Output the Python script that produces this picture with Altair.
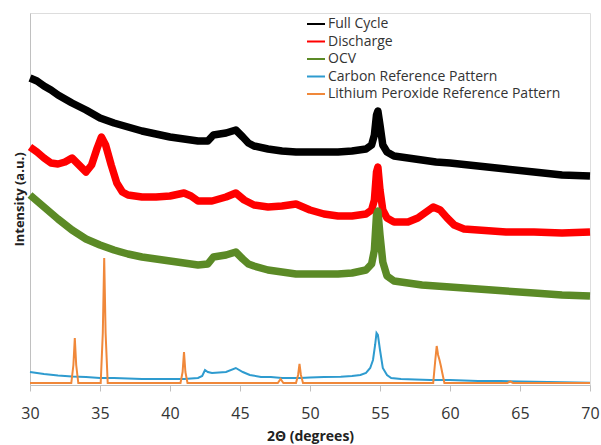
import altair as alt
import pandas as pd

# 2-theta positions (degrees) and intensities (a.u.)
two_theta_scan = [30, 30.5, 31, 31.5, 32, 33, 34, 35, 36, 37, 38, 39, 40, 41, 42, 42.7, 43.1, 44, 44.7, 45.2,
                  45.6, 46, 47, 48, 49, 50, 51, 52, 53, 54, 54.4, 54.6, 54.75, 54.85, 55.0, 55.2, 55.5, 56,
                  57, 58, 59, 60, 62, 64, 66, 68, 70]
full_cycle = [307, 304, 299, 295, 290, 282, 275, 267, 262, 258, 254, 251, 248, 246, 244, 244, 250, 252, 255, 248,
              242, 239, 236, 234, 233, 233, 233, 233, 234, 236, 240, 250, 270, 274, 260, 240, 233, 229,
              227, 225, 223, 222, 219, 216, 213, 210, 209]
ocv = [190, 184, 178, 172, 166, 155, 146, 140, 135, 131, 128, 126, 124, 122, 120, 121, 128, 130, 133, 126,
       121, 119, 115, 113, 111, 111, 111, 111, 112, 115, 121, 135, 170, 174, 150, 123, 109, 104,
       102, 100, 99, 98, 96, 94, 92, 90, 89]

two_theta_discharge = [30, 30.5, 31, 31.5, 32, 32.5, 33, 33.5, 34, 34.4, 34.8, 35.1, 35.4, 35.8, 36.2, 36.6, 37,
                       38, 39, 40, 41, 41.5, 42, 43, 44, 44.7, 45.3, 46, 47, 48, 49, 50, 51, 52, 53, 54, 54.4,
                       54.6, 54.75, 54.85, 55.0, 55.2, 55.5, 56, 57, 57.7, 58.3, 58.8, 59.3, 59.8, 60.3, 61, 62,
                       64, 66, 68, 70]
discharge = [238, 233, 227, 222, 221, 223, 227, 220, 213, 220, 237, 248, 240, 220, 202, 193, 190,
             188, 188, 189, 192, 189, 184, 184, 188, 192, 185, 180, 178, 179, 181, 175, 171, 169, 169, 171, 175,
             185, 213, 218, 195, 175, 167, 163, 163, 167, 173, 178, 175, 167, 160, 156, 155,
             153, 153, 152, 153]

two_theta_carbon = [30, 31, 32, 33, 34, 35, 36, 37, 38, 39, 40, 41, 42, 42.3, 42.5, 42.7, 43, 44, 44.7, 45.2,
                    45.7, 46.5, 47.2, 48, 49.3, 50, 51, 52.2, 53, 53.6, 54, 54.3, 54.5, 54.65, 54.75, 54.85,
                    55.0, 55.2, 55.5, 55.8, 56.5, 57.5, 58.6, 60, 61, 62, 63.6, 65, 67, 70]
carbon = [13, 11, 9.5, 8.5, 8, 7, 7, 6.5, 6, 6, 6, 6, 7, 9, 15, 13, 12, 13, 17, 13,
          10, 8, 8, 7, 7, 7.5, 8, 8.3, 9, 10, 12, 17, 25, 40, 52, 50,
          35, 17, 10, 7, 6, 5.5, 5, 5, 4.5, 4, 4, 3.5, 3, 2.3]

two_theta_li2o2 = [30, 32.95, 33.1, 33.2, 33.3, 33.45, 35.05, 35.2, 35.3, 35.4, 35.55, 40.75, 40.9, 41.0, 41.1,
                   41.25, 47.7, 47.9, 48.1, 49.0, 49.15, 49.25, 49.35, 49.5, 58.8, 58.95, 59.05, 59.15, 59.25,
                   59.35, 59.45, 59.6, 64.1, 64.3, 64.5, 70]
li2o2 = [2, 2, 20, 47, 20, 2, 2, 52, 127, 52, 2, 2, 13, 33, 13,
         2, 2, 6, 2, 2, 10, 21, 10, 2, 2, 25, 39, 30, 25,
         19, 12, 2, 2, 3.5, 2, 2]

series_names = ["Full Cycle", "Discharge", "OCV", "Carbon Reference Pattern",
                "Lithium Peroxide Reference Pattern"]
series_colors = ["#000000", "#ff0000", "#5b8a26", "#2e9bcf", "#f0883a"]
x_ticks = [30, 35, 40, 45, 50, 55, 60, 65, 70]

rows = []
def add(name, kind, xs, ys):
    for x, y in zip(xs, ys):
        rows.append({"series": name, "kind": kind, "two_theta": x, "intensity": y})

add("Full Cycle", "exp", two_theta_scan, full_cycle)
add("Discharge", "exp", two_theta_discharge, discharge)
add("OCV", "exp", two_theta_scan, ocv)
add("Carbon Reference Pattern", "ref", two_theta_carbon, carbon)
add("Lithium Peroxide Reference Pattern", "ref", two_theta_li2o2, li2o2)
df = pd.DataFrame(rows)

FONT = "Open Sans"

x_enc = alt.X("two_theta:Q",
              scale=alt.Scale(domain=[30, 70], nice=False, zero=False),
              axis=alt.Axis(values=x_ticks, title="2Θ (degrees)", grid=False,
                            domainColor="#c0c0c0", tickColor="#c0c0c0", tickSize=6,
                            labelFontSize=16, labelColor="#333333", labelFont=FONT, labelPadding=14,
                            labelFlush=False, labelOverlap=False,
                            titleFontSize=14, titleFont=FONT, titleFontWeight="bold",
                            titleColor="#222222", titlePadding=8))
y_enc = alt.Y("intensity:Q",
              scale=alt.Scale(domain=[0, 372], nice=False, zero=False),
              axis=alt.Axis(title="Intensity (a.u.)", grid=False, ticks=False, labels=False,
                            domainColor="#c0c0c0",
                            titleFontSize=13, titleFont=FONT, titleFontWeight="bold",
                            titleColor="#222222", titlePadding=4))
legend = alt.Legend(title=None, orient="none", legendX=276, legendY=1,
                    symbolType="stroke", symbolStrokeWidth=2, symbolSize=324,
                    labelFontSize=14, labelFont=FONT, labelColor="#333333",
                    labelLimit=500, rowPadding=0.5, padding=0, labelOffset=2)

# reference patterns: thin lines; this layer carries the legend for all five series
ref_lines = alt.Chart(df).transform_filter(alt.datum.kind == "ref").mark_line(
    strokeWidth=2
).encode(x=x_enc, y=y_enc, detail="series:N",
         color=alt.Color("series:N", scale=alt.Scale(domain=series_names, range=series_colors),
                         sort=series_names, legend=legend))

# measured scans: noisy traces drawn as broad strokes, coloured through their own scale (no legend)
exp_lines = alt.Chart(df).transform_filter(alt.datum.kind == "exp").transform_calculate(
    scan="datum.series"
).mark_line(strokeWidth=7.5, strokeJoin="round").encode(
    x=x_enc, y=y_enc, detail="scan:N",
    stroke=alt.Stroke("scan:N", scale=alt.Scale(domain=series_names, range=series_colors),
                      legend=None))

chart = alt.layer(ref_lines, exp_lines).resolve_scale(color="independent", stroke="independent").properties(
    width=560, height=372,
    padding={"left": 30, "top": 13, "right": 11, "bottom": 60},
    autosize="none",
).configure_view(stroke=None).configure(background="white")

chart.save("out.html", embed_options={"renderer": "svg", "actions": False})
